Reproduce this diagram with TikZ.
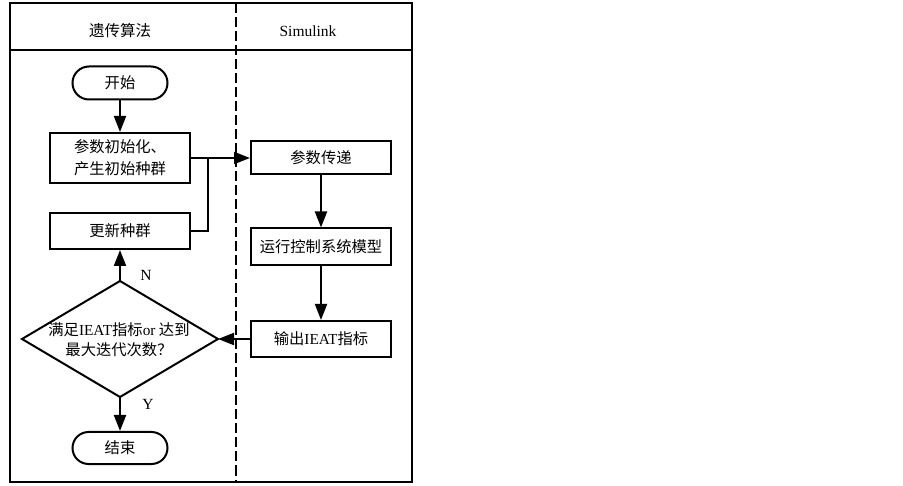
\documentclass[tikz,border=0pt]{standalone}
\usepackage{fontspec}
\setmainfont{Liberation Serif}
\newfontfamily\cjk{Noto Sans CJK SC}
\usetikzlibrary{arrows.meta,shapes.misc}
\begin{document}
\begin{tikzpicture}[x=1pt,y=-1pt,
  lw/.style={line width=2pt},
  box/.style={draw, lw, minimum width=140pt, inner sep=0pt, align=center,
    font=\cjk\fontsize{15.3}{22}\selectfont},
  term/.style={draw, lw, rounded rectangle, minimum width=95pt, minimum height=33pt,
    inner sep=0pt, font=\cjk\fontsize{15.3}{20}\selectfont},
  arr/.style={lw, -{Triangle[length=16pt,width=12pt]}},
  lbl/.style={font=\fontsize{15.5}{18}\selectfont},
  head/.style={font=\fontsize{15.5}{18}\selectfont}]
\useasboundingbox (0,0) rectangle (903,486);
% frame
\draw[lw] (10,3.5) rectangle (412,482);
\draw[lw] (10,50.5) -- (412,50.5);
\draw[line width=1.5pt, dash pattern=on 10pt off 4pt] (236,3.5) -- (236,482);
% headers
\node[head, font=\cjk\fontsize{15.5}{18}\selectfont] (h1) at (120,31) {遗传算法};
\node[head] (h2) at (308,31) {Simulink};
% left lane
\node[term] (start) at (120,83) {开始};
\node[box, minimum height=50pt] (init) at (120,158) {参数初始化、\\产生初始种群};
\node[box, minimum height=36pt] (upd) at (120,231) {更新种群};
\coordinate (dT) at (120,281);
\coordinate (dB) at (120,397);
\coordinate (dL) at (22,339);
\coordinate (dR) at (218,339);
\draw[lw, line join=miter] (dT) -- (dR) -- (dB) -- (dL) -- cycle;
\node[align=center, inner sep=0pt, font=\cjk\fontsize{15.3}{20}\selectfont] (dtext) at (119,340)
  {满足\textrm{IEAT}指标\textrm{or} 达到\\最大迭代次数？};
\node[term, minimum height=32pt] (end) at (120,448) {结束};
% right lane
\node[box, minimum height=33pt] (p1) at (321,158) {参数传递};
\node[box, minimum height=37pt] (p2) at (321,247) {运行控制系统模型};
\node[box, minimum height=36pt] (p3) at (321,339) {输出\textrm{IEAT}指标};
% connectors
\coordinate (j) at (208,158);
\draw[arr] (start) -- (init);
\draw[arr] (init) -- (p1);
\draw[lw] (upd.east) -| (j);
\draw[arr] (dT) -- (upd);
\draw[arr] (dB) -- (end);
\draw[arr] (p1) -- (p2);
\draw[arr] (p2) -- (p3);
\draw[arr] (p3) -- (dR);
% labels
\node[lbl] (nlab) at (146,275) {N};
\node[lbl] (ylab) at (148,404) {Y};
\end{tikzpicture}
\end{document}
